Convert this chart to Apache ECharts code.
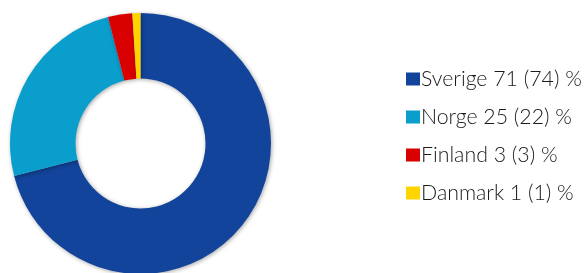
<!DOCTYPE html>
<html><head><meta charset="utf-8">
<script src="https://cdn.jsdelivr.net/npm/echarts@6/dist/echarts.min.js"></script>
<style>html,body{margin:0;padding:0;background:#fff}#c{width:585px;height:273px}</style>
</head><body><div id="c"></div>
<script>
const categories = ['Sverige', 'Norge', 'Finland', 'Danmark'];
const values = [71, 25, 3, 1];
const previousValues = [74, 22, 3, 1];
const colors = ['#11449a', '#0a9ecc', '#d90000', '#ffd500'];

const chart = echarts.init(document.getElementById('c'));
chart.setOption({
  animation: false,
  legend: {
    orient: 'vertical',
    left: 401,
    top: 62,
    itemWidth: 14,
    itemHeight: 13,
    itemGap: 14,
    icon: 'rect',
    textStyle: { fontFamily: 'Lato', fontSize: 21.3, fontWeight: 300, color: '#1a1a1a', padding: [0, 0, 0, -4], lineHeight: 24 },
    formatter: function (name) {
      const i = categories.indexOf(name);
      return name + ' ' + values[i] + ' (' + previousValues[i] + ') %';
    },
    data: categories
  },
  series: [{
    type: 'pie',
    center: [140.5, 143.5],
    radius: [65, 130.5],
    startAngle: 90,
    clockwise: true,
    label: { show: false },
    labelLine: { show: false },
    itemStyle: { shadowBlur: 4, shadowColor: 'rgba(0,0,0,0.35)', shadowOffsetX: 1, shadowOffsetY: 1 },
    data: categories.map((n, i) => ({ name: n, value: values[i], itemStyle: { color: colors[i] } }))
  }]
});
</script></body></html>
